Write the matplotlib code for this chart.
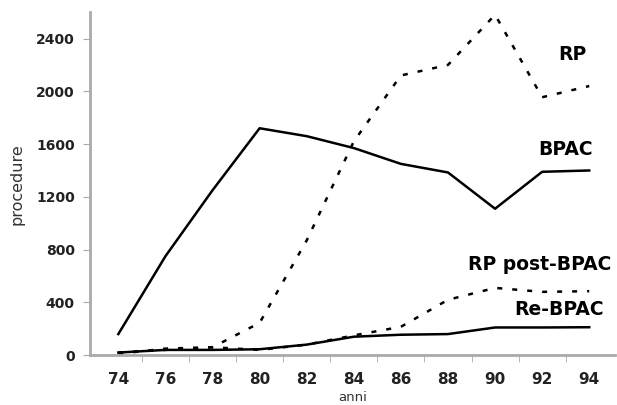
import matplotlib.pyplot as plt
import numpy as np

# anni e numero di procedure
anni = np.array([74, 76, 78, 80, 82, 84, 86, 88, 90, 92, 94])
bpac = np.array([160, 750, 1250, 1720, 1660, 1570, 1450, 1385, 1110, 1390, 1400])
rp = np.array([20, 40, 60, 245, 870, 1620, 2120, 2200, 2580, 1955, 2040])
rp_post = np.array([10, 50, 60, 40, 80, 150, 215, 420, 510, 480, 485])
re_bpac = np.array([20, 40, 40, 45, 80, 140, 155, 160, 210, 210, 212])

x_labels = ["74", "76", "78", "80", "82", "84", "86", "88", "90", "92", "94"]
y_ticks = [0, 400, 800, 1200, 1600, 2000, 2400]

fig = plt.figure(figsize=(6.17, 4.05), dpi=100)
ax = fig.add_axes([0.146, 0.123, 0.851, 0.847])

dotted = (0, (2.0, 4.0))
ax.plot(anni, bpac, color="black", lw=1.8)
ax.plot(anni, rp, color="black", lw=1.8, linestyle=dotted)
ax.plot(anni, rp_post, color="black", lw=1.8, linestyle=dotted)
ax.plot(anni, re_bpac, color="black", lw=1.8)

ax.set_xlim(72.8, 95.1)
ax.set_ylim(0, 2600)
ax.set_xticks(anni)
ax.set_xticklabels(x_labels, fontweight="bold", fontsize=11, color="#222222")
ax.set_xticks(np.arange(75, 95, 2), minor=True)
ax.tick_params(axis="x", which="major", length=0, pad=12)
ax.tick_params(axis="x", which="minor", length=5, color="#aaaaaa", direction="out")
ax.set_yticks(y_ticks)
ax.set_yticklabels([str(v) for v in y_ticks], fontweight="bold", fontsize=10, color="#222222")
ax.tick_params(axis="y", length=5, color="#aaaaaa", direction="out", pad=6)

for side in ["top", "right"]:
    ax.spines[side].set_visible(False)
for side in ["left", "bottom"]:
    ax.spines[side].set_color("#aaaaaa")
    ax.spines[side].set_linewidth(2)

ax.set_ylabel("procedure", fontsize=11.5, color="#333333", labelpad=8)
ax.set_xlabel("anni", fontsize=9.5, color="#333333")
ax.xaxis.set_label_coords(0.5, -0.104)

ax.text(93.3, 2240, "RP", fontsize=13.5, fontweight="bold", ha="center")
ax.text(93.0, 1518, "BPAC", fontsize=13.5, fontweight="bold", ha="center")
ax.text(91.9, 645, "RP post-BPAC", fontsize=13.5, fontweight="bold", ha="center")
ax.text(92.7, 304, "Re-BPAC", fontsize=13.5, fontweight="bold", ha="center")

fig.savefig("out.png", dpi=100)
